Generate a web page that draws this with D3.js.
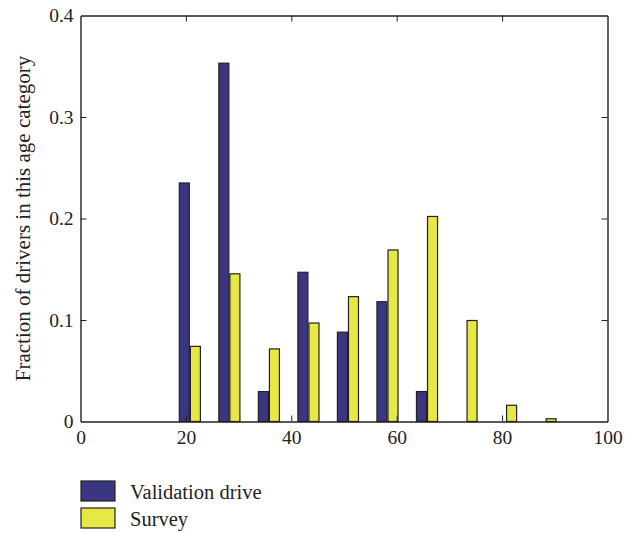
<!DOCTYPE html>
<html>
<head>
<meta charset="utf-8">
<script src="https://cdn.jsdelivr.net/npm/d3@7"></script>
<style>
  html, body { margin: 0; padding: 0; background: #fff; }
  svg text { font-family: "Liberation Serif", "DejaVu Serif", serif; fill: #222; }
</style>
</head>
<body>
<svg id="chart" width="637" height="533"></svg>
<script>
// Data
const binCenters = [20.75, 28.25, 35.75, 43.25, 50.75, 58.25, 65.75, 73.25, 80.75, 88.25];
const validationDrive = [0.235, 0.353, 0.0295, 0.147, 0.088, 0.118, 0.0295, 0, 0, 0];
const survey = [0.074, 0.1455, 0.0715, 0.097, 0.123, 0.169, 0.202, 0.0995, 0.016, 0.0027];
const seriesNames = ["Validation drive", "Survey"];
const seriesColors = ["#3b3683", "#e8e845"];
const xTicks = [0, 20, 40, 60, 80, 100];
const yTicks = [0, 0.1, 0.2, 0.3, 0.4];
const yLabel = "Fraction of drivers in this age category";

const svg = d3.select("#chart");
const L = 80.5, R = 607.5, T = 15.5, B = 421.5;
const x = d3.scaleLinear().domain([0, 100]).range([L, R]);
const y = d3.scaleLinear().domain([0, 0.4]).range([B, T]);

const barW = 1.9;   // in data units
const gap = 0.1;

const series = [validationDrive, survey];
series.forEach((vals, si) => {
  svg.append("g").selectAll("rect")
    .data(vals.map((v, i) => ({ v, c: binCenters[i] })))
    .join("rect")
    .attr("x", d => si === 0 ? x(d.c - gap - barW) : x(d.c + gap))
    .attr("width", d => x(barW) - x(0))
    .attr("y", d => y(d.v))
    .attr("height", d => Math.max(0, y(0) - y(d.v)))
    .attr("fill", seriesColors[si])
    .attr("stroke", "#222")
    .attr("stroke-width", 1.2);
});

// Axes
const axisStyle = g => {
  g.selectAll("path").attr("stroke", "#222").attr("stroke-width", 1.4);
  g.selectAll("line").attr("stroke", "#222");
  g.selectAll("text").attr("font-size", 19.5).attr("fill", "#222")
    .attr("font-family", "Liberation Serif, DejaVu Serif, serif");
};

const xAxis = svg.append("g").attr("transform", `translate(0,${B})`)
  .call(d3.axisBottom(x).tickValues(xTicks).tickSize(-6).tickPadding(9).tickSizeOuter(0).tickFormat(d3.format("d")))
  .call(axisStyle);
xAxis.selectAll(".tick").filter(d => d === 0 || d === 100).select("line").remove();

const yAxis = svg.append("g").attr("transform", `translate(${L},0)`)
  .call(d3.axisLeft(y).tickValues(yTicks).tickSize(-6).tickPadding(7).tickSizeOuter(0)
    .tickFormat(d => d === 0 ? "0" : d3.format(".1f")(d)))
  .call(axisStyle);
yAxis.selectAll(".tick").filter(d => d === 0 || d === 0.4).select("line").remove();

// Top and right axes (ticks only)
const topAxis = svg.append("g").attr("transform", `translate(0,${T})`)
  .call(d3.axisTop(x).tickValues(xTicks).tickSize(-6).tickSizeOuter(0).tickFormat(""))
  .call(axisStyle);
topAxis.selectAll(".tick").filter(d => d === 0 || d === 100).select("line").remove();
const rightAxis = svg.append("g").attr("transform", `translate(${R},0)`)
  .call(d3.axisRight(y).tickValues(yTicks).tickSize(-6).tickSizeOuter(0).tickFormat(""))
  .call(axisStyle);
rightAxis.selectAll(".tick").filter(d => d === 0 || d === 0.4).select("line").remove();

// Y label
svg.append("text")
  .attr("transform", `translate(30,${(T + B) / 2}) rotate(-90)`)
  .attr("text-anchor", "middle")
  .attr("font-size", 21)
  .text(yLabel);

// Legend
const leg = svg.append("g");
seriesNames.forEach((name, i) => {
  const yy = 481 + i * 27;
  leg.append("rect").attr("x", 81).attr("y", yy).attr("width", 34).attr("height", 20)
    .attr("fill", seriesColors[i]).attr("stroke", "#222").attr("stroke-width", 1.2);
  leg.append("text").attr("x", 130).attr("y", yy + 18).attr("font-size", 20.5).text(name);
});
</script>
</body>
</html>
